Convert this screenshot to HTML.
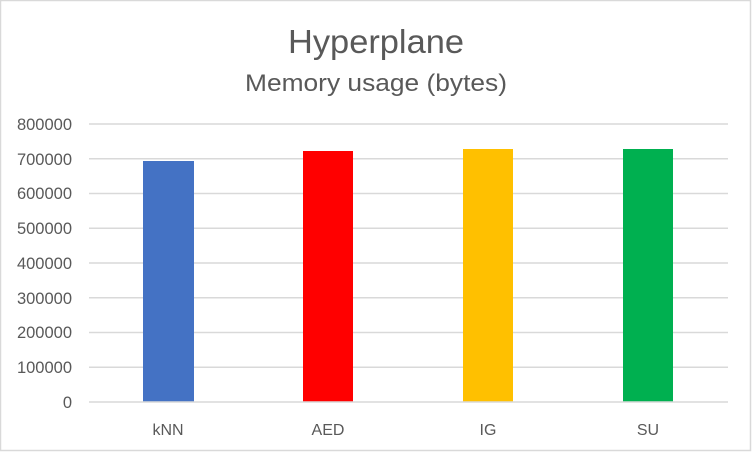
<!DOCTYPE html>
<html><head><meta charset="utf-8"><style>
html,body{margin:0;padding:0;background:#fff}
</style></head><body>
<svg width="752" height="452" xmlns="http://www.w3.org/2000/svg" style="display:block">
<rect x="0.5" y="0.5" width="750" height="450" fill="#fff" stroke="#d9d9d9" stroke-width="1.5"/>
<g font-family="Liberation Sans, sans-serif" fill="#595959">
<text x="376" y="53" font-size="33" text-anchor="middle" textLength="176" lengthAdjust="spacingAndGlyphs">Hyperplane</text>
<text x="376" y="91" font-size="24" text-anchor="middle" textLength="262" lengthAdjust="spacingAndGlyphs">Memory usage (bytes)</text>
</g>
<g stroke="#d9d9d9" stroke-width="1.5">
<line x1="89" x2="728" y1="124" y2="124"/>
<line x1="89" x2="728" y1="158.75" y2="158.75"/>
<line x1="89" x2="728" y1="193.5" y2="193.5"/>
<line x1="89" x2="728" y1="228.25" y2="228.25"/>
<line x1="89" x2="728" y1="263" y2="263"/>
<line x1="89" x2="728" y1="297.75" y2="297.75"/>
<line x1="89" x2="728" y1="332.5" y2="332.5"/>
<line x1="89" x2="728" y1="367.25" y2="367.25"/>
</g>
<rect x="143" y="161" width="51" height="241" fill="#4472c4"/>
<rect x="303" y="151" width="50" height="251" fill="#ff0000"/>
<rect x="463" y="149" width="50" height="253" fill="#ffc000"/>
<rect x="623" y="149" width="50" height="253" fill="#00b050"/>
<line x1="89" x2="728" y1="402" y2="402" stroke="#d9d9d9" stroke-width="1.5"/>
<g font-family="Liberation Sans, sans-serif" font-size="16.5" fill="#595959" text-anchor="end">
<text x="72" y="130">800000</text>
<text x="72" y="165">700000</text>
<text x="72" y="199">600000</text>
<text x="72" y="234">500000</text>
<text x="72" y="269">400000</text>
<text x="72" y="304">300000</text>
<text x="72" y="338">200000</text>
<text x="72" y="373">100000</text>
<text x="72" y="408">0</text>
</g>
<g font-family="Liberation Sans, sans-serif" font-size="16" fill="#595959" text-anchor="middle">
<text x="168" y="435">kNN</text>
<text x="328" y="435">AED</text>
<text x="488" y="435">IG</text>
<text x="648" y="435">SU</text>
</g>
</svg>
</body></html>
